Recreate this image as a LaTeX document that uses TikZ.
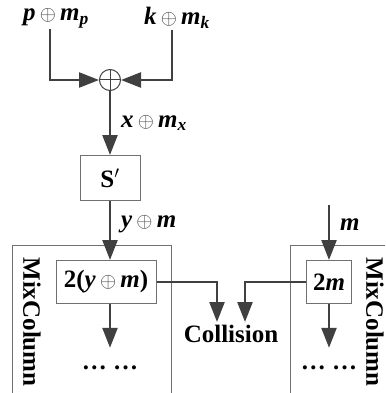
\documentclass[tikz,border=0pt]{standalone}
\usepackage{fontspec}
\setmainfont{Liberation Serif}
\usetikzlibrary{arrows.meta,positioning}
\definecolor{arrgray}{HTML}{404040}
\definecolor{boxgray}{HTML}{707070}
\newcommand{\xo}{\,{\fontsize{21}{24}\selectfont\color{black!75}$\oplus$}\,}

\begin{document}
\begin{tikzpicture}[
    x=1pt, y=-1pt,
    box/.style={draw=boxgray, line width=1pt, minimum height=43pt, font=\fontsize{25}{30}\selectfont\bfseries, inner sep=2pt},
    lbl/.style={font=\fontsize{25}{30}\selectfont\bfseries\itshape, inner sep=1pt},
    word/.style={font=\fontsize{25}{30}\selectfont\bfseries, inner sep=3pt},
    dotsn/.style={font=\fontsize{25}{30}\selectfont\bfseries, anchor=base, text height=20pt, inner sep=1pt},
    frame/.style={draw=boxgray, line width=1pt},
    arr/.style={-{Triangle[length=20pt,width=15pt]}, line width=2.4pt, draw=arrgray},
    xorn/.style={circle, draw=arrgray, line width=1pt, minimum size=21pt, inner sep=0pt,
      path picture={\draw[arrgray, line width=1pt]
        (path picture bounding box.west) -- (path picture bounding box.east)
        (path picture bounding box.north) -- (path picture bounding box.south);}},
  ]
  \useasboundingbox (0,0) rectangle (385,393);

  % inputs and xor
  \node[lbl] (pm) at (56,18) {p\xo m\textsubscript{p}};
  \node[lbl] (km) at (177,18) {k\xo m\textsubscript{k}};
  \node[xorn] (xor) at (110,80) {};
  \draw[arr] ([xshift=-6pt]pm.south) |- (xor);
  \draw[arr] ([xshift=-5pt]km.south) |- (xor);

  % S-box
  \node[box, minimum width=60pt, minimum height=45pt] (sbox) at (110,178) {S$'$};
  \draw[arr] (xor) -- node[lbl, right=9pt, pos=0.5] {x\xo m\textsubscript{x}} (sbox);

  % left MixColumn
  \draw[frame] (12,393) |- (171,245) -- (171,393);
  \node[word, rotate=-90] (mixl) at (32,322) {MixColumn};
  \node[box, minimum width=100pt] (mc1) at (106,282) {2(\textit{y}\xo\textit{m})};
  \draw[arr] (sbox) -- node[lbl, right=9pt, pos=0.4] {y\xo m} (sbox.south |- mc1.north);
  \node[dotsn] (dots1) at (110,369) {… …};
  \draw[arr] (mc1.south -| dots1) -- (dots1);

  % right MixColumn
  \draw[frame] (290,393) |- (385,245);
  \node[word, rotate=-90] (mixr) at (375,322) {MixColumn};
  \coordinate (mtop) at (329,205);
  \node[box, minimum width=45pt] (mc2) at (329,282) {2\textit{m}};
  \draw[arr] (mtop) -- node[lbl, right=9pt, pos=0.35] {m} (mc2);
  \node[dotsn] (dots2) at (329,369) {… …};
  \draw[arr] (mc2) -- (dots2);

  % collision
  \node[word] (coll) at (231,334) {Collision};
  \draw[arr] (mc1.east) -| ([xshift=-14pt]coll.north);
  \draw[arr] (mc2.west) -| ([xshift=14pt]coll.north);
\end{tikzpicture}
\end{document}
